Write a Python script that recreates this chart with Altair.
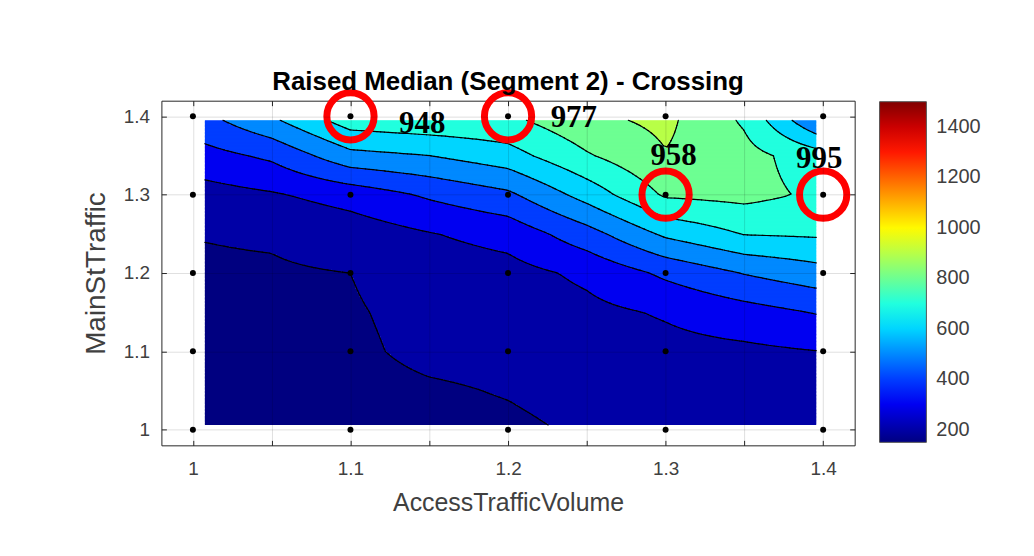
import numpy as np
import pandas as pd
import altair as alt

# ---------------- data ----------------
title_text = "Raised Median (Segment 2) - Crossing"
x_title = "AccessTrafficVolume"
y_title = "MainStTraffic"

# surface values, one list per x column,
# ordered from y = 1.0 (bottom) to y = 1.4 (top)
grid_x = [1.0, 1.05, 1.1, 1.15, 1.2, 1.25, 1.3, 1.35, 1.4]
grid_y = [1.0, 1.05, 1.1, 1.15, 1.2, 1.25, 1.3, 1.35, 1.4]
col_100 = [130, 145, 160, 175, 188, 202, 255, 355, 460]
col_105 = [148, 160, 172, 183, 190, 210, 290, 420, 600]
col_110 = [165, 175, 185, 192, 200, 245, 340, 570, 770]
col_115 = [175, 190, 219, 225, 245, 295, 415, 600, 790]
col_120 = [185, 205, 225, 245, 265, 335, 480, 660, 790]
col_125 = [210, 228, 250, 275, 320, 460, 640, 790, 885]
col_130 = [225, 245, 270, 310, 420, 620, 815, 895, 925]
col_135 = [232, 250, 280, 360, 505, 705, 830, 835, 780]
col_140 = [235, 255, 300, 410, 565, 715, 780, 740, 450]
surface_cols = [col_100, col_105, col_110, col_115, col_120,
                col_125, col_130, col_135, col_140]

fill_x = [1.0076, 1.3956]
fill_y = [1.006, 1.395]
levels = [200, 300, 400, 500, 600, 700, 800, 900]

dot_x = [1.0, 1.1, 1.2, 1.3, 1.4]
dot_y = [1.0, 1.1, 1.2, 1.3, 1.4]

mark_x = [1.1, 1.2, 1.3, 1.4]
mark_y = [1.4, 1.4, 1.3, 1.3]
mark_text = ["948", "977", "958", "995"]

x_ticks = [1.0, 1.05, 1.1, 1.15, 1.2, 1.25, 1.3, 1.35, 1.4]
y_ticks = [1.0, 1.1, 1.2, 1.3, 1.4]
x_domain = [0.98, 1.42]
y_domain = [0.98, 1.42]
cbar_ticks = [200, 400, 600, 800, 1000, 1200, 1400]
cbar_lo, cbar_hi = 150, 1500

# ---------------- surface evaluation (bilinear, like contourf) ----------------
gx = np.array(grid_x)
gy = np.array(grid_y)
Z = np.array(surface_cols, dtype=float).T  # Z[j, i] -> (gy[j], gx[i])


def surf(xq, yq):
    i = np.clip(np.searchsorted(gx, xq, side="right") - 1, 0, len(gx) - 2)
    j = np.clip(np.searchsorted(gy, yq, side="right") - 1, 0, len(gy) - 2)
    tx = (xq - gx[i]) / (gx[i + 1] - gx[i])
    ty = (yq - gy[j]) / (gy[j + 1] - gy[j])
    return (Z[j, i] * (1 - tx) * (1 - ty) + Z[j, i + 1] * tx * (1 - ty)
            + Z[j + 1, i] * (1 - tx) * ty + Z[j + 1, i + 1] * tx * ty)


# filled bands
NX, NY = 300, 220
xe = np.linspace(fill_x[0], fill_x[1], NX + 1)
ye = np.linspace(fill_y[0], fill_y[1], NY + 1)
xc = (xe[:-1] + xe[1:]) / 2
yc = (ye[:-1] + ye[1:]) / 2
XC, YC = np.meshgrid(xc, yc)
V = surf(XC, YC)
B = np.floor(V / 100.0) * 100.0
dyc = ye[1] - ye[0]
fill_rows = []
for j in range(NY):
    top = min(ye[j + 1] + 0.6 * dyc, fill_y[1])
    start = 0
    for i in range(1, NX + 1):
        if i == NX or B[j, i] != B[j, start]:
            fill_rows.append(dict(x=xe[start], x2=xe[i], y=ye[j], y2=top,
                                  band=float(B[j, start])))
            start = i
fill_df = pd.DataFrame(fill_rows)

# contour lines (marching squares)
MX, MY = 160, 120
xn = np.linspace(fill_x[0], fill_x[1], MX + 1)
yn = np.linspace(fill_y[0], fill_y[1], MY + 1)
XN, YN = np.meshgrid(xn, yn)
W = surf(XN, YN)
segs = []
a = W[:-1, :-1]
b = W[:-1, 1:]
c = W[1:, 1:]
d = W[1:, :-1]
mn = np.minimum(np.minimum(a, b), np.minimum(c, d))
mx = np.maximum(np.maximum(a, b), np.maximum(c, d))
for L in levels:
    js, iis = np.nonzero((mn < L) & (mx >= L))
    for j, i in zip(js, iis):
        x0, x1 = xn[i], xn[i + 1]
        y0, y1 = yn[j], yn[j + 1]
        v00, v10, v11, v01 = W[j, i], W[j, i + 1], W[j + 1, i + 1], W[j + 1, i]
        pts = []
        if (v00 < L) != (v10 < L):
            t = (L - v00) / (v10 - v00)
            pts.append((x0 + t * (x1 - x0), y0))
        if (v10 < L) != (v11 < L):
            t = (L - v10) / (v11 - v10)
            pts.append((x1, y0 + t * (y1 - y0)))
        if (v01 < L) != (v11 < L):
            t = (L - v01) / (v11 - v01)
            pts.append((x0 + t * (x1 - x0), y1))
        if (v00 < L) != (v01 < L):
            t = (L - v00) / (v01 - v00)
            pts.append((x0, y0 + t * (y1 - y0)))
        for k in range(0, len(pts) - 1, 2):
            segs.append(dict(x=pts[k][0], y=pts[k][1],
                             x2=pts[k + 1][0], y2=pts[k + 1][1]))
line_df = pd.DataFrame(segs)

dots_df = pd.DataFrame([dict(x=xv, y=yv) for yv in dot_y for xv in dot_x])
marks_df = pd.DataFrame(dict(x=mark_x, y=mark_y, label=mark_text))

# ---------------- styling ----------------
FONT = "Liberation Sans"
AX = "#262626"
LBL = "#404040"
jet_stops = [cbar_lo + f * (cbar_hi - cbar_lo) for f in (0, 0.125, 0.375, 0.625, 0.875, 1.0)]
jet_colors = ["#000080", "#0000ff", "#00ffff", "#ffff00", "#ff0000", "#800000"]
color_scale = alt.Scale(domain=jet_stops, range=jet_colors, interpolate="rgb", clamp=True)

xs = alt.Scale(domain=x_domain, nice=False, zero=False)
ys = alt.Scale(domain=y_domain, nice=False, zero=False)

x_axis_main = alt.Axis(
    values=x_ticks,
    labelExpr="round(datum.value*20) % 2 == 0 ? format(datum.value, '~g') : ''",
    title=x_title, grid=True, gridColor="black", gridOpacity=0.13,
    domain=False, offset=-5, tickSize=5, tickColor=AX,
    labelFont=FONT, labelFontSize=19, labelColor=LBL, labelPadding=14,
    titleFont=FONT, titleFontSize=25, titleFontWeight="normal", titleColor=LBL,
    titlePadding=12, zindex=1,
)
y_axis_main = alt.Axis(
    values=y_ticks, format="~g",
    title=y_title, grid=True, gridColor="black", gridOpacity=0.13,
    domain=False, offset=-5, tickSize=5, tickColor=AX,
    labelFont=FONT, labelFontSize=19, labelColor=LBL, labelPadding=12,
    titleFont=FONT, titleFontSize=28, titleFontWeight="normal", titleColor=LBL,
    titlePadding=13, zindex=1,
)
x_axis_top = alt.Axis(orient="top", values=x_ticks, labels=False, title=None, grid=False,
                      domain=False, offset=-5, tickSize=5, tickColor=AX)
y_axis_right = alt.Axis(orient="right", values=y_ticks, labels=False, title=None, grid=False,
                        domain=False, offset=-5, tickSize=5, tickColor=AX)

fill = alt.Chart(fill_df).mark_rect(strokeWidth=0).encode(
    x=alt.X("x:Q", scale=xs, axis=x_axis_main),
    x2="x2:Q",
    y=alt.Y("y:Q", scale=ys, axis=y_axis_main),
    y2="y2:Q",
    color=alt.Color(
        "band:Q", scale=color_scale,
        legend=alt.Legend(
            type="gradient", direction="vertical", orient="none",
            legendX=721, legendY=1, gradientLength=342, gradientThickness=47,
            values=cbar_ticks, format="d", title=None, labelFont=FONT, labelFontSize=20,
            labelColor=LBL, labelOffset=10, labelOverlap=False, padding=0,
            gradientStrokeColor="#555555", gradientStrokeWidth=1,
        ),
    ),
)

lines = alt.Chart(line_df).mark_rule(color="black", strokeWidth=1.2, strokeCap="round").encode(
    x=alt.X("x:Q", scale=xs, axis=None), x2="x2:Q",
    y=alt.Y("y:Q", scale=ys, axis=None), y2="y2:Q",
)

dots = alt.Chart(dots_df).mark_point(shape="circle", filled=True, color="black", size=36, opacity=1).encode(
    x=alt.X("x:Q", scale=xs, axis=x_axis_top),
    y=alt.Y("y:Q", scale=ys, axis=y_axis_right),
)

rings = alt.Chart(marks_df).mark_point(shape="circle", filled=False, color="#ff0000",
                                       size=2250, strokeWidth=7, opacity=1).encode(
    x=alt.X("x:Q", scale=xs, axis=None),
    y=alt.Y("y:Q", scale=ys, axis=None),
)

label_offsets = [(72, 8), (66, 2), (8, -39), (-4, -36)]
texts = []
for k, (ddx, ddy) in enumerate(label_offsets):
    texts.append(
        alt.Chart(marks_df.iloc[[k]]).mark_text(
            font="Liberation Serif", fontWeight="bold", fontSize=31, color="black",
            dx=ddx, dy=ddy, align="center", baseline="middle",
        ).encode(
            x=alt.X("x:Q", scale=xs, axis=None),
            y=alt.Y("y:Q", scale=ys, axis=None),
            text="label:N",
        )
    )

chart = alt.layer(fill, lines, dots, rings, *texts).resolve_axis(
    x="independent", y="independent"
).properties(
    width=696, height=346,
    title=alt.TitleParams(title_text, font=FONT, fontSize=26, fontWeight="bold",
                          color="black", anchor="middle", offset=-16),
    autosize=alt.AutoSizeParams(type="none"),
    padding={"left": 154, "top": 92, "right": 172, "bottom": 102},
).configure(
    background="white",
    view=alt.ViewConfig(stroke=AX, strokeWidth=1),
)

chart.save("out.html", embed_options={"renderer": "svg", "actions": False})
